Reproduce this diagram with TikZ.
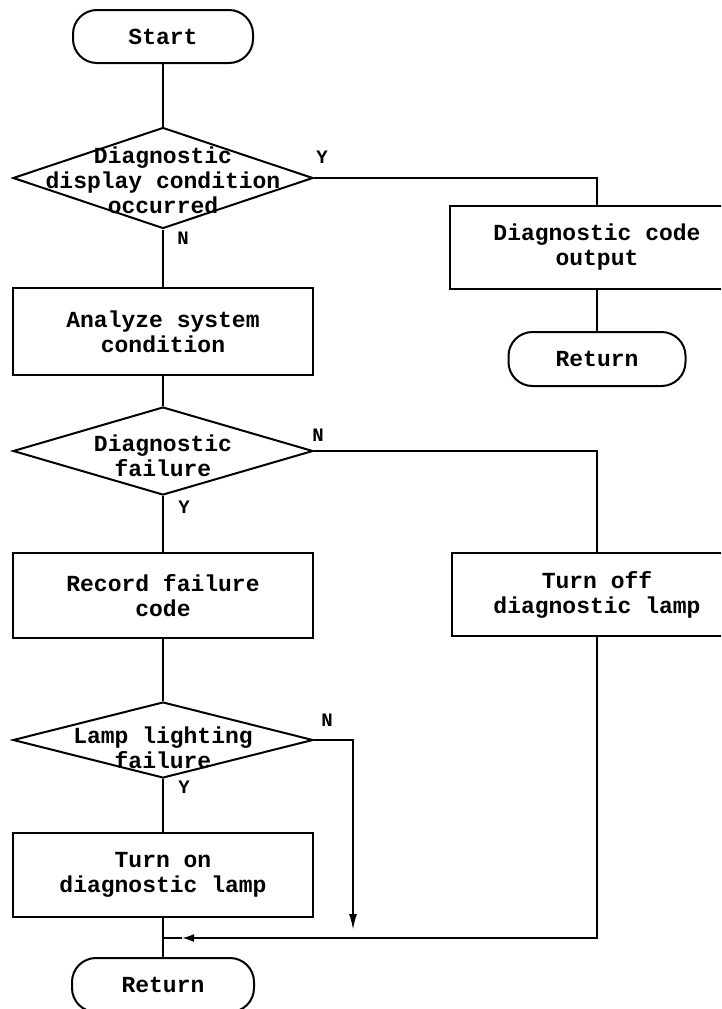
\documentclass[tikz,border=0pt]{standalone}
\usepackage{fontspec}
\setmonofont{Liberation Mono}
\usetikzlibrary{positioning, shapes.geometric, arrows.meta}

\begin{document}
\begin{tikzpicture}[
  x=1pt, y=-1pt,
  line width=2pt,
  every node/.style={font=\ttfamily\bfseries\fontsize{23}{25}\selectfont,align=center,inner sep=0pt},
  procbox/.style={draw,rectangle,minimum width=300pt},
  term/.style={draw,rectangle,rounded corners=24pt,minimum height=54pt},
  decision/.style={draw,diamond,minimum width=300pt},
  yn/.style={font=\ttfamily\bfseries\fontsize{19}{19}\selectfont},
  tip/.style={-{Latex[length=16pt,width=8pt]}}
]
  \useasboundingbox (0,0) rectangle (721,1009);
  \clip (0,0) rectangle (721,1009);

  % left column
  \node[term,minimum width=180pt,minimum height=53pt] (start) at (163,36.5) {Start};
  \node[decision,minimum height=101pt] (d1) at (163,178) {};
  \node (d1txt) at (163,180) {Diagnostic\\display condition\\occurred};
  \node[procbox,minimum height=87pt] (analyze) at (163,331.5) {Analyze system\\condition};
  \node[decision,minimum height=88pt] (d2) at (163,451) {};
  \node (d2txt) at (163,456) {Diagnostic\\failure};
  \node[procbox,minimum height=85pt] (record) at (163,595.5) {Record failure\\code};
  \node[decision,minimum height=76pt] (d3) at (163,740) {};
  \node (d3txt) at (163,748) {Lamp lighting\\failure};
  \node[procbox,minimum height=84pt] (turnon) at (163,875) {Turn on\\diagnostic lamp};
  \node[term,minimum width=182pt] (ret2) at (163,985) {Return};

  % right column
  \node[procbox,minimum width=295pt,minimum height=83pt] (code) at (597,247.5) {Diagnostic code\\output};
  \node[term,minimum width=177pt] (ret1) at (597,359) {Return};
  \node[procbox,minimum width=290pt,minimum height=83pt] (turnoff) at (597,594.5) {Turn off\\diagnostic lamp};

  \coordinate (drop) at (353,930);
  \coordinate (head) at (182,938);
  \coordinate (join) at (163,938);

  \draw (start) -- (d1);
  \draw (d1) -- (analyze);
  \draw (d1.east) -| (code.north);
  \draw (code) -- (ret1);
  \draw (analyze) -- (d2);
  \draw (d2.east) -| (turnoff.north);
  \draw (d2) -- (record);
  \draw (record) -- (d3);
  \draw (d3) -- (turnon);
  \draw (turnon) -- (ret2);
  \draw[tip] (d3.east) -| (drop);
  \draw[-{Latex[length=12pt,width=8pt]}] (turnoff.south) |- (head);
  \draw (head) -- (join);

  \node[yn] (y1) at (322,157) {Y};
  \node[yn] (n1) at (183,238) {N};
  \node[yn] (n2) at (318,435) {N};
  \node[yn] (y2) at (184,507) {Y};
  \node[yn] (n3) at (327,720) {N};
  \node[yn] (y3) at (184,787) {Y};
\end{tikzpicture}
\end{document}
